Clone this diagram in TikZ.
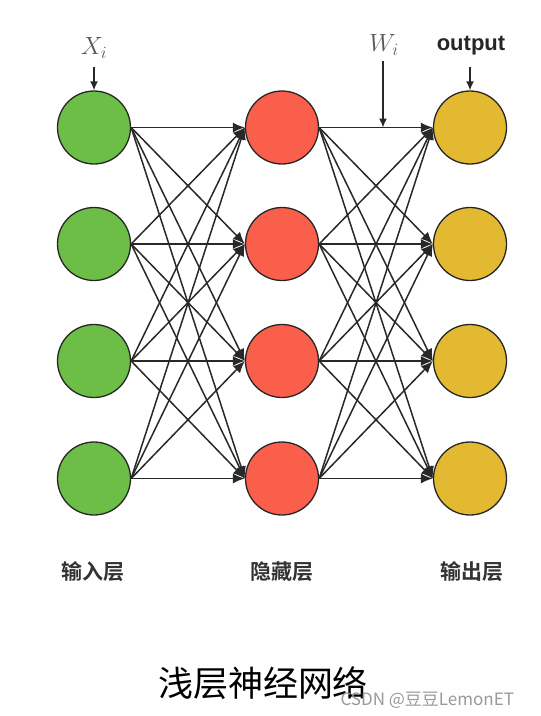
\documentclass[tikz,border=0pt]{standalone}
\usepackage{fontspec}
\setsansfont{Liberation Sans}
\newfontfamily\cjk{Noto Sans CJK SC}
\newfontfamily\cjkb{Noto Sans CJK SC Bold}
\usetikzlibrary{arrows.meta}
\definecolor{ingreen}{RGB}{108,190,70}
\definecolor{hidred}{RGB}{250,95,75}
\definecolor{outyel}{RGB}{228,185,50}
\definecolor{edgec}{RGB}{40,40,40}
\tikzset{
  neuron/.style={circle,draw=black!85,line width=1.3pt,minimum size=73pt,inner sep=0pt},
  conn/.style={draw=edgec,line width=1.5pt,-{Latex[length=12pt,width=10pt]}},
  pointer/.style={draw=edgec,line width=1.5pt,-{Latex[length=9pt,width=8pt]}},
  layerlbl/.style={font=\cjkb\fontsize{21}{23}\selectfont,text=black!80},
}
\begin{document}
\begin{tikzpicture}[x=1pt,y=-1pt]
\useasboundingbox (0,0) rectangle (541,716);
\foreach \i/\yy in {1/127.5,2/244,3/361,4/478.5}{
  \node[neuron,fill=ingreen] (g\i) at (94,\yy) {};
  \node[neuron,fill=hidred] (r\i) at (282,\yy) {};
  \node[neuron,fill=outyel] (y\i) at (470,\yy) {};
}
\foreach \a in {1,...,4}{
  \foreach \b in {1,...,4}{
    \draw[conn] (g\a.east) -- (r\b.west);
    \draw[conn] (r\a.east) -- (y\b.west);
  }
}
\node[text=black!65,font=\fontsize{26}{26}\selectfont] (xi) at (94,48) {$X_i$};
\coordinate (xs) at (94,67);
\draw[pointer] (xs) -- (g1.north);
\node[text=black!65,font=\fontsize{26}{26}\selectfont] (wi) at (384,45) {$W_i$};
\coordinate (ws) at (383,61);
\coordinate (we) at (383,127.5);
\draw[pointer] (ws) -- (we);
\node[font=\sffamily\bfseries\fontsize{22}{24}\selectfont,text=black!85] (out) at (471,46) {output};
\coordinate (os) at (470,67);
\draw[pointer] (os) -- (y1.north);
\node[layerlbl] (l1) at (93,572) {输入层};
\node[layerlbl] (l2) at (282,572) {隐藏层};
\node[layerlbl] (l3) at (472,572) {输出层};
\node[font=\cjk\fontsize{35}{38}\selectfont] (title) at (263,683) {浅层神经网络};
\node[font=\cjk\fontsize{17}{18}\selectfont,text=black!40,anchor=west] (wm) at (337,700) {CSDN @豆豆LemonET};
\end{tikzpicture}
\end{document}
